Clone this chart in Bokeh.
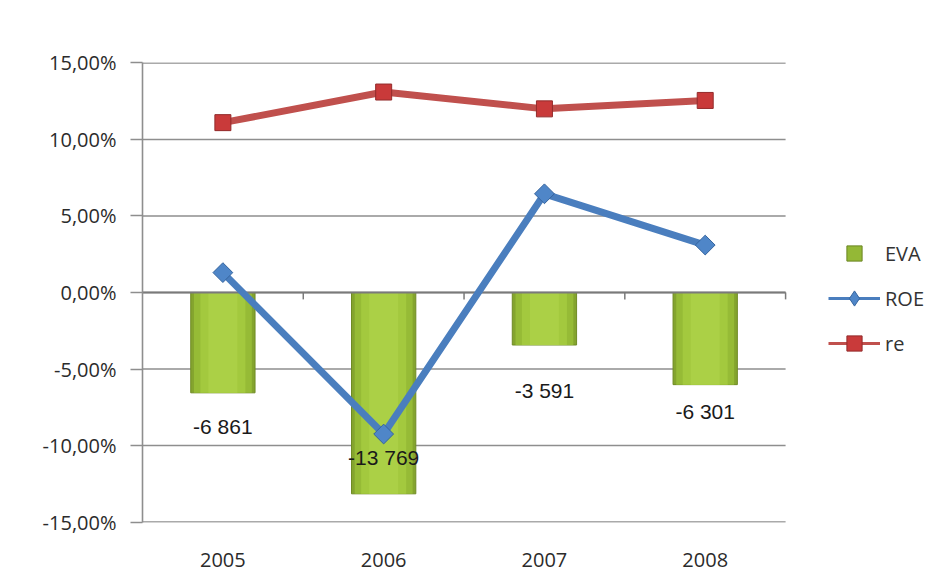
from bokeh.plotting import figure
from bokeh.models import (ColumnDataSource, Range1d, FixedTicker,
                          CustomJSTickFormatter, Legend, LegendItem)
from bokeh.core.properties import value
from bokeh.embed import file_html
from bokeh.resources import INLINE

# ---- data ----
years = ["2005", "2006", "2007", "2008"]
eva = [-6861, -13769, -3591, -6301]            # EVA (thousands), bar series
eva_labels = ["-6 861", "-13 769", "-3 591", "-6 301"]
roe = [1.3, -9.25, 6.45, 3.1]                  # ROE, %
re_ = [11.1, 13.1, 12.0, 12.55]                # re, %
y_ticks = [-15, -10, -5, 0, 5, 10, 15]
label_y = [-8.75, -10.75, -6.4, -7.8]          # where Excel placed the data labels (%)

n = len(years)
xpos = [i + 0.5 for i in range(n)]             # category centres on a unit-width axis
xedge = [i + 1.0 for i in range(n)]            # category right edges

src = ColumnDataSource(dict(x=xpos, xe=xedge, year=years, eva=eva, lab=eva_labels,
                            roe=roe, re=re_, ly=label_y))
grid_src = ColumnDataSource(dict(y=y_ticks, x0=[0] * len(y_ticks), x1=[n] * len(y_ticks)))
nan = float("nan")

# the frame reaches the right edge so the legend can sit to the right of the categories
p = figure(width=933, height=573, x_range=Range1d(0, n + 0.92),
           y_range=Range1d(-15.03, 15.03), output_backend="svg", toolbar_location=None,
           min_border_left=142, min_border_right=0, min_border_top=62, min_border_bottom=51)
p.extra_y_ranges = {"eva": Range1d(-15730, 15730)}
p.outline_line_color = None
p.background_fill_color = "white"
p.xgrid.grid_line_color = None
p.ygrid.grid_line_color = None

GRID = "#8e8e8e"
# horizontal gridlines across the categories only
p.segment(x0="x0", x1="x1", y0="y", y1="y", source=grid_src, line_color=GRID, line_width=1.6)

# y axis
p.yaxis.ticker = FixedTicker(ticks=y_ticks)
p.yaxis.formatter = CustomJSTickFormatter(code="return tick.toFixed(2).replace('.', ',') + '%';")
p.yaxis.axis_line_color = GRID
p.yaxis.axis_line_width = 1.6
p.yaxis.major_tick_line_color = GRID
p.yaxis.major_tick_line_width = 1.6
p.yaxis.major_tick_out = 12
p.yaxis.major_tick_in = 0
p.yaxis.minor_tick_line_color = None
p.yaxis.major_label_standoff = 14
p.yaxis.major_label_text_font = "Open Sans"
p.yaxis.major_label_text_font_size = "20px"
p.yaxis.major_label_text_color = "#2b2b2b"

# x axis (category labels only)
p.xaxis.ticker = FixedTicker(ticks=xpos)
p.xaxis.major_label_overrides = {x: y for x, y in zip(xpos, years)}
p.xaxis.axis_line_color = None
p.xaxis.major_tick_line_color = None
p.xaxis.minor_tick_line_color = None
p.xaxis.major_label_standoff = 24
p.xaxis.major_label_text_font = "Open Sans"
p.xaxis.major_label_text_font_size = "20px"
p.xaxis.major_label_text_color = "#2b2b2b"

# EVA bars with a soft horizontal gradient (layered)
p.vbar(x="x", top=0, bottom="eva", width=0.40, source=src, y_range_name="eva",
       fill_color="#84a42e", line_color="#6f8b25", line_width=1)
p.vbar(x="x", top=0, bottom="eva", width=0.36, source=src, y_range_name="eva",
       fill_color="#96bb36", line_color=None)
p.vbar(x="x", top=0, bottom="eva", width=0.28, source=src, y_range_name="eva",
       fill_color="#a3c93e", line_color=None)
p.vbar(x="x", top=0, bottom="eva", width=0.18, source=src, y_range_name="eva",
       fill_color="#abd046", line_color=None)

# zero axis line with category ticks
p.segment(x0=0, x1=n, y0=0, y1=0, line_color="#7a7a7a", line_width=2)
p.segment(x0="xe", x1="xe", y0=0, y1=-0.45, source=src, line_color="#7a7a7a", line_width=1.5)

# data labels
p.text(x="x", y="ly", text="lab", source=src, text_font=value("Liberation Sans"),
       text_font_size="21px", text_align="center", text_baseline="middle", text_color="#1a1a1a")

# re line
p.line(x="x", y="re", source=src, line_color="#c0504d", line_width=7)
p.scatter(x="x", y="re", source=src, marker="square", size=16,
          fill_color="#c93a3a", line_color="#932b2b", line_width=1)

# ROE line
p.line(x="x", y="roe", source=src, line_color="#4a7ebe", line_width=7)
p.scatter(x="x", y="roe", source=src, marker="square", angle=0.785398, size=14,
          fill_color="#4f86c8", line_color="#35649e", line_width=1)

# legend proxies (thin lines, small markers as in the Excel legend)
eva_proxy = p.scatter(x=[0.5], y=[nan], marker="square", size=14,
                      fill_color="#94b836", line_color="#6a8522")
roe_leg_line = p.line(x=[0.5], y=[nan], line_color="#4a7ebe", line_width=3)
roe_leg_pt = p.scatter(x=[0.5], y=[nan], marker="diamond", size=20,
                       fill_color="#4f86c8", line_color="#35649e", line_width=1)
re_leg_line = p.line(x=[0.5], y=[nan], line_color="#c0504d", line_width=3)
re_leg_pt = p.scatter(x=[0.5], y=[nan], marker="square", size=14,
                      fill_color="#c93a3a", line_color="#932b2b", line_width=1)

legend = Legend(items=[
    LegendItem(label="EVA", renderers=[eva_proxy]),
    LegendItem(label="ROE", renderers=[roe_leg_line, roe_leg_pt]),
    LegendItem(label="re", renderers=[re_leg_line, re_leg_pt]),
], location=(686, 160), padding=0, margin=0, border_line_color=None,
    background_fill_alpha=0, glyph_width=52, glyph_height=38, label_standoff=5,
    spacing=7, label_text_font="Open Sans", label_text_font_size="20px",
    label_text_color="#333333")
p.add_layout(legend)

open("out.html", "w").write(file_html(p, INLINE))
